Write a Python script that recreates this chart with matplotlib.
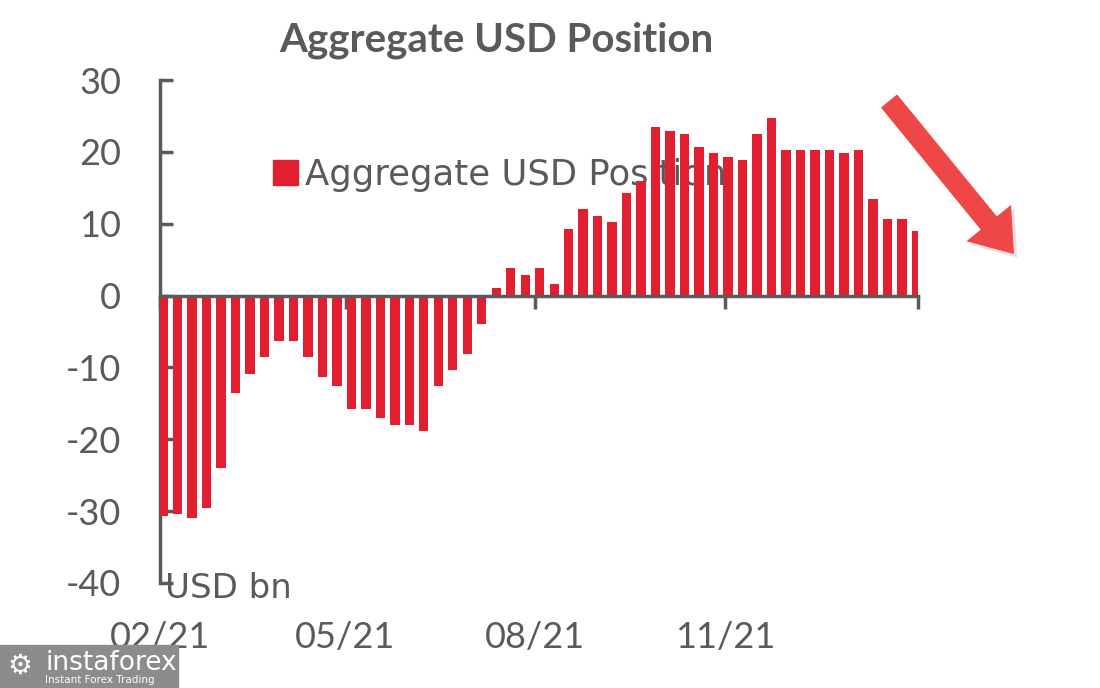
import matplotlib
matplotlib.use("Agg")
import matplotlib.pyplot as plt
from matplotlib.patches import Patch, Rectangle
import numpy as np

# weekly aggregate USD position, USD bn
values = [-30.7, -30.4, -30.9, -29.5, -24.0, -13.5, -10.9, -8.5, -6.3, -6.3,
          -8.5, -11.3, -12.6, -15.8, -15.8, -17.1, -18.0, -18.0, -18.9, -12.6,
          -10.3, -8.1, -3.9, 1.1, 3.8, 2.9, 3.8, 1.6, 9.3, 12.0,
          11.1, 10.2, 14.3, 16.0, 23.4, 22.9, 22.5, 20.7, 19.8, 19.3,
          18.8, 22.5, 24.7, 20.2, 20.2, 20.2, 20.2, 19.8, 20.2, 13.4,
          10.6, 10.6, 9.0]
date_labels = ["02/21", "05/21", "08/21", "11/21", ""]
date_ticks = [-0.2, 12.6, 25.7, 38.8, 52.1]
y_ticks = [30, 20, 10, 0, -10, -20, -30, -40]

RED = "#e21f31"
GREY = "#5a5a5a"
FONT = "Lato"
WIDE = "DejaVu Sans"

fig = plt.figure(figsize=(11, 6.88), dpi=100)
ax = fig.add_axes([160 / 1100, 105 / 688, 758 / 1100, 503 / 688])

x = np.arange(len(values))
ax.bar(x, values, width=0.65, color=RED, zorder=3, label="Aggregate USD Position")

ax.set_xlim(-0.2, 52.1)
ax.set_ylim(-40, 30)

for s in ["top", "right"]:
    ax.spines[s].set_visible(False)
ax.spines["left"].set_color(GREY)
ax.spines["left"].set_linewidth(2.5)
ax.spines["bottom"].set_position(("data", 0))
ax.spines["bottom"].set_color(GREY)
ax.spines["bottom"].set_linewidth(2.5)
ax.spines["bottom"].set_zorder(4)

ax.set_yticks(y_ticks)
ax.set_yticklabels([str(v) for v in y_ticks])
ax.tick_params(axis="y", direction="in", length=9, width=2.5, color=GREY,
               labelsize=26, labelcolor=GREY, pad=28)
ax.set_xticks(date_ticks)
ax.set_xticklabels(date_labels)
ax.tick_params(axis="x", direction="out", length=9, width=2.5, color=GREY,
               labelsize=26, labelcolor=GREY, pad=225)
for lab in ax.get_xticklabels() + ax.get_yticklabels():
    lab.set_family(FONT)

# legend behind the bars
leg = ax.legend(handles=[Patch(color=RED, label="Aggregate USD Position")],
                loc="center left", bbox_to_anchor=(273 / 1100, 1 - 175 / 688),
                bbox_transform=fig.transFigure, frameon=False,
                handlelength=0.7, handleheight=0.7, handletextpad=0.2,
                borderpad=0, borderaxespad=0,
                prop={"family": WIDE, "size": 25.5})
for t in leg.get_texts():
    t.set_color(GREY)
leg.set_zorder(1)

fig.text(496 / 1100, 1 - 40 / 688, "Aggregate USD Position", ha="center", va="center",
         fontsize=29, fontweight="bold", color=GREY, family=FONT)
fig.text(165 / 1100, 1 - 588 / 688, "USD bn", ha="left", va="center",
         fontsize=24.5, color=GREY, family=WIDE)

# red arrow with soft shadow
start = (889 / 1100, 1 - 101 / 688)
end = (1014 / 1100, 1 - 254 / 688)
style = "simple,head_length=1.25,head_width=1.8,tail_width=0.65"
ax.annotate("", xy=(end[0] + 0.003, end[1] - 0.005), xytext=(start[0] + 0.003, start[1] - 0.005),
            xycoords="figure fraction", textcoords="figure fraction",
            arrowprops=dict(arrowstyle=style, mutation_scale=23, color="#000000",
                            alpha=0.12, lw=0, shrinkA=0, shrinkB=0))
ax.annotate("", xy=end, xytext=start,
            xycoords="figure fraction", textcoords="figure fraction",
            arrowprops=dict(arrowstyle=style, mutation_scale=23, color="#ef4747",
                            lw=0, shrinkA=0, shrinkB=0))

# watermark
fig.patches.append(Rectangle((0, 0), 178 / 1100, 43 / 688, transform=fig.transFigure,
                             color="#8c8c8c", zorder=5))
fig.text(45 / 1100, 1 - 663 / 688, "instaforex", ha="left", va="center", fontsize=19,
         color="white", family="DejaVu Sans", zorder=6)
fig.text(45 / 1100, 1 - 680 / 688, "Instant Forex Trading", ha="left", va="center",
         fontsize=7.5, color="white", family="DejaVu Sans", zorder=6)
fig.text(20 / 1100, 1 - 666 / 688, "\u2699", ha="center", va="center", fontsize=20,
         color="white", family="DejaVu Sans", zorder=6)

fig.savefig("out.png", dpi=100)
